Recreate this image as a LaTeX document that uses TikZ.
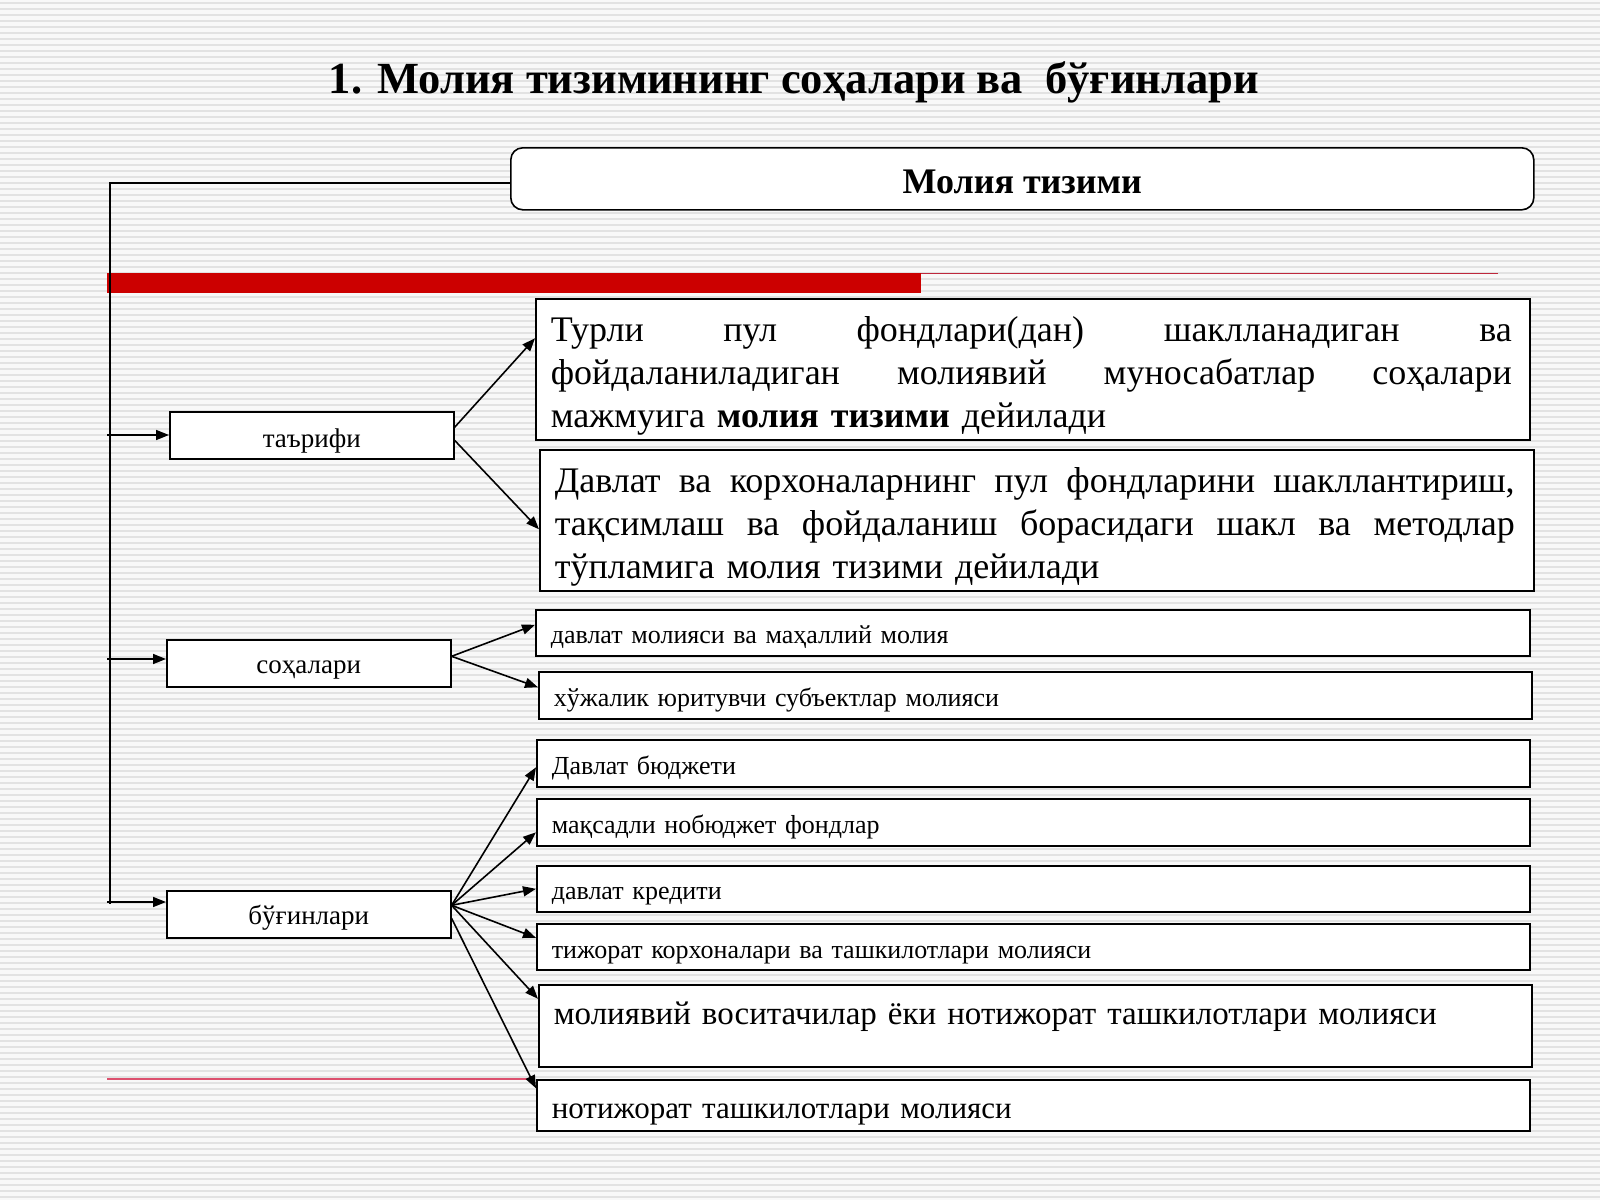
\documentclass[tikz,border=0pt]{standalone}
\usepackage{fontspec}
\setmainfont{Liberation Serif}
\usetikzlibrary{arrows.meta}
\definecolor{bgc}{RGB}{248,248,248}
\definecolor{stripec}{RGB}{226,226,226}
\definecolor{barred}{RGB}{204,0,0}
\definecolor{thinred}{RGB}{190,40,60}
\definecolor{thinpink}{RGB}{220,80,110}
\tikzset{
  box/.style={draw, line width=1.6pt, fill=white, inner xsep=15pt, inner ysep=0pt, anchor=north west, align=left},
  lbl/.style={draw, line width=1.6pt, fill=white, inner sep=0pt, anchor=north west, align=center, font=\fontsize{27}{31}\selectfont},
  small/.style={font=\fontsize{26}{30}\selectfont},
  big/.style={font=\fontsize{36}{43}\selectfont},
  conn/.style={line width=1.6pt, -{Triangle[length=13pt,width=10pt]}},
  plain/.style={line width=1.6pt},
}
\newcommand{\jline}[2]{\hbox to #1{#2}}
\begin{document}
\begin{tikzpicture}[x=1pt,y=-1pt]
\useasboundingbox (0,0) rectangle (1600,1200);
\fill[bgc] (0,0) rectangle (1600,1200);
\foreach \yy in {3,9,...,1197} \draw[stripec, line width=1.4pt] (0,\yy) -- (1600,\yy);

% title
\node[font=\fontsize{44.5}{50}\selectfont\bfseries] (title) at (794,82) {1. Молия тизимининг соҳалари ва~ бўғинлари};

% top rounded box
\node[draw, line width=1.6pt, fill=white, rounded corners=12pt, minimum width=1023pt, minimum height=62pt, anchor=north west, inner sep=0pt, text height=46pt, text depth=16pt, font=\fontsize{36}{42}\selectfont\bfseries] (top) at (510,147) {Молия тизими};

% red bars
\fill[barred] (107,273) rectangle (921,293);
\draw[thinred, line width=1.5pt] (921,273.5) -- (1498,273.5);
\draw[thinpink, line width=1.5pt] (107,1079) -- (527,1079);

% definition boxes
\node[box, big, text width=964pt, minimum height=141pt] (a1) at (535,298) {\jline{961pt}{\rule{0pt}{38pt}Турли\hfill пул\hfill фондлари(дан)\hfill шаклланадиган\hfill ва}\par\jline{961pt}{фойдаланиладиган\hfill молиявий\hfill муносабатлар\hfill соҳалари}\par\hbox{мажмуига \textbf{молия тизими} дейилади}};
\node[box, big, text width=964pt, minimum height=141pt] (a2) at (539,449) {\jline{960pt}{\rule{0pt}{38pt}Давлат\hfill ва\hfill корхоналарнинг\hfill пул\hfill фондларини\hfill шакллантириш,}\par\jline{960pt}{тақсимлаш\hfill ва\hfill фойдаланиш\hfill борасидаги\hfill шакл\hfill ва\hfill методлар}\par\hbox{тўпламига молия тизими дейилади}};

% spheres
\node[box, small, text width=964pt, text height=34pt, text depth=12pt] (b1) at (535,609) {давлат молияси ва маҳаллий молия};
\node[box, small, text width=963pt, text height=35pt, text depth=12pt] (b2) at (538,671) {хўжалик юритувчи субъектлар молияси};

% links
\node[box, small, text width=963pt, text height=35pt, text depth=12pt] (c1) at (536,739) {Давлат бюджети};
\node[box, small, text width=963pt, text height=35pt, text depth=12pt] (c2) at (536,798) {мақсадли нобюджет фондлар};
\node[box, small, text width=963pt, text height=34pt, text depth=12pt] (c3) at (536,865) {давлат кредити};
\node[box, small, text width=963pt, text height=35pt, text depth=11pt] (c4) at (536,923) {тижорат корхоналари ва ташкилотлари молияси};
\node[box, font=\fontsize{33}{40}\selectfont, text width=963pt, text height=40pt, text depth=42pt] (c5) at (538,984) {молиявий воситачилар ёки нотижорат ташкилотлари молияси};
\node[box, font=\fontsize{31}{37}\selectfont, text width=963pt, text height=39pt, text depth=12pt] (c6) at (536,1079) {нотижорат ташкилотлари молияси};

% left labels
\node[lbl, minimum width=284pt, text height=36pt, text depth=11pt] (ta) at (169,411) {таърифи};
\node[lbl, minimum width=284pt, text height=34pt, text depth=13pt] (so) at (166,639) {соҳалари};
\node[lbl, minimum width=284pt, text height=34pt, text depth=13pt] (bu) at (166,890) {бўғинлари};

% trunk
\coordinate (tk0) at (110,183);
\coordinate (tk1) at (107,435);
\coordinate (tk2) at (107,659);
\coordinate (tk3) at (107,902);
\coordinate (tkb) at (110,904);
\draw[plain] (tk0 -| top.west) -- (tk0) -- (tkb);
\draw[conn] (tk1) -- (tk1 -| ta.west);
\draw[conn] (tk2) -- (tk2 -| so.west);
\draw[conn] (tk3) -- (tk3 -| bu.west);

% from таърифи
\draw[conn] ([yshift=8pt]ta.east) -- ([yshift=31pt]a1.west);
\draw[conn] ([yshift=-5pt]ta.east) -- ([yshift=-9pt]a2.west);
% from соҳалари
\draw[conn] ([yshift=7pt]so.east) -- ([yshift=8pt]b1.west);
\draw[conn] ([yshift=7pt]so.east) -- ([yshift=8pt]b2.west);
% from бўғинлари
\coordinate (bo) at ([yshift=9pt]bu.east);
\draw[conn] (bo) -- ([yshift=-4pt]c1.west);
\draw[conn] (bo) -- ([yshift=-10pt]c2.west);
\draw[conn] (bo) -- (c3.west);
\draw[conn] (bo) -- ([yshift=9pt]c4.west);
\draw[conn] (bo) -- ([yshift=27pt]c5.west);
\draw[conn] ([yshift=-4pt]bu.east) -- ([yshift=17pt]c6.west);
\end{tikzpicture}
\end{document}
